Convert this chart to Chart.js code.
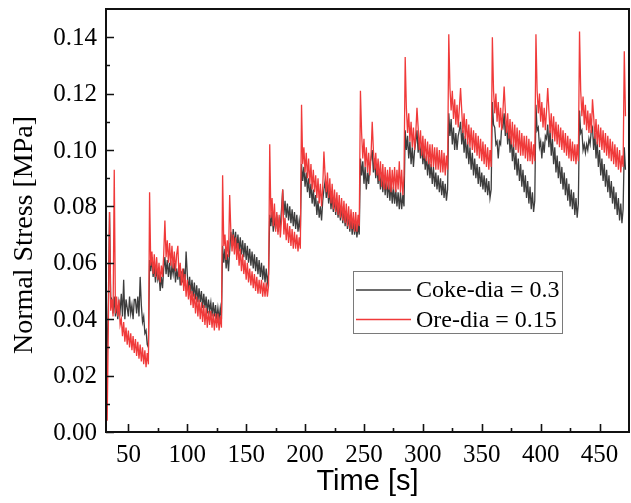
<!DOCTYPE html>
<html>
<head>
<meta charset="utf-8">
<script src="https://cdn.jsdelivr.net/npm/chart.js@4/dist/chart.umd.min.js"></script>
<style>
  html, body { margin: 0; padding: 0; background: #fff; }
  #wrap { width: 631px; height: 503px; position: relative; }
  .fp { position: absolute; left: -9999px; top: 0; font-size: 20px; }
</style>
</head>
<body>
<div id="wrap"><canvas id="c" width="631" height="503"></canvas></div>
<span class="fp" style="font-family:'Liberation Serif'">0.14 Coke</span>
<span class="fp" style="font-family:'Liberation Sans'">Time</span>
<script>
// ---- data (time in s, stress in MPa), 1 s sampling inside each loading segment ----
const segmentStarts = [31, 68, 130, 170, 197, 247, 285, 322, 359, 396, 433];

const cokeValues = [
  // 31-67
  [0.002,0.030,0.046,0.078,0.048,
   0.047,0.042,0.048,0.041,0.045,0.040,0.046,0.043,0.049,0.041,
   0.054,0.040,0.047,0.044,0.041,0.048,0.042,0.045,0.040,0.047,
   0.047,0.042,0.048,0.041,0.055,0.045,0.039,0.041,0.035,0.036,0.031,0.030],
  // 68-129
  [0.061,0.057,0.062,0.055,0.059,0.053,0.058,0.054,0.056,0.050,0.055,0.051,
   0.058,0.062,0.056,0.061,0.055,0.060,0.054,0.059,0.056,0.060,
   0.053,0.058,0.054,0.059,0.052,0.057,0.053,0.058,0.052,0.064,
   0.056,0.050,0.055,0.049,0.054,0.048,0.053,0.047,0.052,0.046,
   0.051,0.046,0.050,0.044,0.049,0.044,0.048,0.042,0.047,0.043,
   0.046,0.041,0.046,0.041,0.045,0.040,0.044,0.040,0.044,0.040],
  // 130-169
  [0.066,0.060,0.065,0.058,0.063,0.057,0.064,0.071,0.066,0.072,
   0.066,0.071,0.065,0.070,0.064,0.069,0.063,0.068,0.062,0.067,
   0.061,0.066,0.060,0.065,0.059,0.064,0.058,0.063,0.057,0.062,
   0.056,0.061,0.055,0.060,0.054,0.059,0.053,0.058,0.053,0.056],
  // 170-196
  [0.077,0.073,0.078,0.071,0.076,0.072,0.077,0.071,0.075,0.073,
   0.079,0.086,0.077,0.082,0.076,0.081,0.075,0.080,0.074,0.079,
   0.073,0.078,0.072,0.077,0.071,0.075,0.071],
  // 197-246
  [0.095,0.089,0.094,0.087,0.092,0.085,0.090,0.083,0.088,0.081,
   0.086,0.080,0.084,0.077,0.082,0.076,0.080,0.075,0.082,0.086,
   0.089,0.083,0.088,0.081,0.086,0.079,0.084,0.078,0.083,0.077,
   0.082,0.076,0.081,0.075,0.080,0.074,0.079,0.073,0.078,0.072,
   0.077,0.071,0.076,0.070,0.075,0.070,0.074,0.069,0.073,0.070],
  // 247-284
  [0.097,0.091,0.096,0.088,0.094,0.086,0.092,0.088,0.095,0.097,
   0.100,0.092,0.097,0.090,0.095,0.088,0.093,0.086,0.092,0.085,
   0.091,0.084,0.090,0.083,0.089,0.082,0.088,0.081,0.087,0.081,
   0.086,0.080,0.085,0.079,0.085,0.079,0.084,0.080],
  // 285-321
  [0.107,0.100,0.105,0.097,0.103,0.095,0.101,0.094,0.100,0.103,
   0.107,0.099,0.104,0.097,0.102,0.095,0.100,0.093,0.098,0.091,
   0.097,0.090,0.095,0.088,0.094,0.087,0.092,0.086,0.091,0.085,
   0.090,0.084,0.089,0.083,0.088,0.082,0.086],
  // 322-358
  [0.113,0.105,0.111,0.102,0.108,0.100,0.106,0.100,0.105,0.107,
   0.110,0.102,0.107,0.099,0.105,0.097,0.103,0.095,0.101,0.093,
   0.099,0.091,0.097,0.090,0.095,0.088,0.094,0.087,0.092,0.086,
   0.091,0.085,0.090,0.084,0.089,0.083,0.086],
  // 359-395
  [0.117,0.109,0.108,0.102,0.103,0.097,0.103,0.102,0.109,0.108,
   0.113,0.105,0.110,0.102,0.108,0.099,0.105,0.096,0.102,0.093,
   0.099,0.091,0.097,0.089,0.095,0.087,0.093,0.085,0.091,0.083,
   0.089,0.081,0.087,0.079,0.085,0.078,0.082],
  // 396-432
  [0.116,0.107,0.108,0.101,0.103,0.097,0.103,0.099,0.105,0.104,
   0.109,0.101,0.107,0.098,0.104,0.095,0.101,0.092,0.098,0.090,
   0.096,0.088,0.094,0.086,0.092,0.084,0.090,0.082,0.088,0.080,
   0.086,0.079,0.085,0.077,0.083,0.076,0.081],
  // 433-472
  [0.114,0.106,0.107,0.100,0.102,0.099,0.102,0.100,0.104,0.102,
   0.107,0.108,0.100,0.106,0.097,0.103,0.094,0.100,0.091,0.097,
   0.089,0.095,0.087,0.093,0.085,0.091,0.083,0.089,0.081,0.087,
   0.079,0.085,0.077,0.083,0.075,0.081,0.074,0.079,0.101,0.093]
];

const oreValues = [
  // 31-67
  [0.041,0.004,0.038,0.078,0.043,0.047,0.041,0.093,0.042,
   0.048,0.041,0.047,0.038,0.040,0.034,0.039,0.032,0.037,0.031,
   0.036,0.030,0.035,0.029,0.034,0.028,0.033,0.027,0.032,0.026,
   0.031,0.025,0.030,0.024,0.029,0.023,0.028,0.024],
  // 68-129
  [0.085,0.059,0.064,0.056,0.063,0.055,0.062,0.054,0.060,0.053,0.059,0.055,
   0.063,0.075,0.062,0.068,0.060,0.067,0.059,0.066,0.058,0.064,
   0.057,0.063,0.066,0.055,0.060,0.052,0.058,0.050,0.056,0.048,
   0.054,0.047,0.052,0.045,0.050,0.044,0.049,0.042,0.048,0.041,
   0.047,0.040,0.046,0.039,0.045,0.038,0.044,0.037,0.043,0.038,
   0.043,0.037,0.042,0.036,0.042,0.037,0.042,0.036,0.041,0.037],
  // 130-169
  [0.091,0.066,0.070,0.061,0.068,0.062,0.084,0.071,0.064,0.070,
   0.063,0.069,0.061,0.067,0.059,0.065,0.057,0.063,0.056,0.061,
   0.054,0.060,0.053,0.058,0.052,0.057,0.051,0.056,0.050,0.055,
   0.049,0.054,0.049,0.054,0.048,0.053,0.048,0.053,0.048,0.052],
  // 170-196
  [0.102,0.076,0.083,0.073,0.081,0.071,0.078,0.070,0.077,0.069,
   0.075,0.086,0.070,0.076,0.068,0.074,0.067,0.073,0.066,0.072,
   0.065,0.071,0.065,0.070,0.064,0.069,0.065],
  // 197-246
  [0.116,0.095,0.101,0.092,0.099,0.090,0.097,0.088,0.095,0.086,
   0.093,0.085,0.091,0.083,0.090,0.081,0.088,0.080,0.087,0.0995,
   0.091,0.085,0.092,0.083,0.090,0.081,0.088,0.079,0.086,0.078,
   0.085,0.077,0.084,0.076,0.083,0.075,0.082,0.074,0.081,0.073,
   0.080,0.072,0.079,0.072,0.078,0.071,0.078,0.071,0.077,0.073],
  // 247-284
  [0.121,0.106,0.097,0.104,0.094,0.101,0.092,0.099,0.091,0.098,
   0.110,0.100,0.093,0.099,0.091,0.097,0.089,0.096,0.087,0.095,
   0.086,0.094,0.086,0.093,0.086,0.094,0.085,0.093,0.086,0.094,
   0.085,0.093,0.086,0.096,0.085,0.093,0.084,0.091],
  // 285-321
  [0.133,0.115,0.106,0.113,0.103,0.110,0.101,0.108,0.100,0.106,
   0.115,0.108,0.100,0.107,0.098,0.105,0.097,0.104,0.096,0.103,
   0.095,0.102,0.094,0.102,0.094,0.101,0.093,0.101,0.093,0.100,
   0.092,0.100,0.092,0.099,0.091,0.098,0.093],
  // 322-358
  [0.141,0.122,0.114,0.121,0.111,0.118,0.109,0.116,0.108,0.115,
   0.122,0.114,0.106,0.113,0.104,0.111,0.102,0.109,0.101,0.108,
   0.100,0.107,0.099,0.106,0.098,0.105,0.097,0.104,0.096,0.103,
   0.095,0.102,0.094,0.101,0.093,0.100,0.094],
  // 359-395
  [0.140,0.121,0.113,0.120,0.110,0.117,0.108,0.115,0.107,0.114,
   0.1225,0.114,0.106,0.113,0.104,0.111,0.102,0.110,0.101,0.109,
   0.100,0.108,0.099,0.107,0.098,0.106,0.098,0.105,0.097,0.105,
   0.096,0.104,0.096,0.103,0.095,0.102,0.096],
  // 396-432
  [0.141,0.121,0.113,0.120,0.110,0.117,0.108,0.115,0.107,0.114,
   0.122,0.114,0.106,0.113,0.104,0.112,0.103,0.110,0.102,0.109,
   0.101,0.108,0.100,0.107,0.099,0.106,0.098,0.105,0.097,0.104,
   0.096,0.103,0.096,0.102,0.095,0.102,0.096],
  // 433-472
  [0.142,0.121,0.112,0.119,0.109,0.116,0.107,0.114,0.106,0.113,
   0.106,0.118,0.112,0.104,0.111,0.102,0.109,0.101,0.108,0.100,
   0.107,0.099,0.106,0.098,0.105,0.097,0.104,0.096,0.103,0.095,
   0.102,0.094,0.101,0.093,0.100,0.092,0.098,0.094,0.135,0.112]
];

const seriesLabels = ['Coke-dia = 0.3', 'Ore-dia = 0.15'];
const xTickValues = [50, 100, 150, 200, 250, 300, 350, 400, 450];
const xMinorValues = [75, 125, 175, 225, 275, 325, 375, 425];
const yTickValues = [0.00, 0.02, 0.04, 0.06, 0.08, 0.10, 0.12, 0.14];
const yMinorValues = [0.01, 0.03, 0.05, 0.07, 0.09, 0.11, 0.13];
const xTitle = 'Time [s]';
const yTitle = 'Normal Stress [MPa]';

function toPoints(segments) {
  const pts = [];
  segments.forEach((seg, k) => {
    seg.forEach((v, i) => pts.push({ x: segmentStarts[k] + i, y: v }));
  });
  return pts;
}

const SERIF = '"Liberation Serif", "Times New Roman", serif';
const SANS = '"Liberation Sans", Arial, sans-serif';
const COKE_COLOR = '#3d3d3d';
const ORE_COLOR = '#f03a3a';

const frameTicks = {
  id: 'frameTicks',
  afterDatasetsDraw(chart) {
    const { ctx, chartArea: a, scales } = chart;
    ctx.save();
    ctx.strokeStyle = '#111';
    ctx.lineWidth = 1.6;
    ctx.beginPath();
    scales.x.ticks.forEach(t => {
      const px = Math.round(scales.x.getPixelForValue(t.value)) + 0.5;
      ctx.moveTo(px, a.bottom); ctx.lineTo(px, a.bottom - 8);
    });
    xMinorValues.forEach(v => {
      const px = Math.round(scales.x.getPixelForValue(v)) + 0.5;
      ctx.moveTo(px, a.bottom); ctx.lineTo(px, a.bottom - 4);
    });
    scales.y.ticks.forEach(t => {
      const py = Math.round(scales.y.getPixelForValue(t.value)) + 0.5;
      ctx.moveTo(a.left, py); ctx.lineTo(a.left + 8, py);
    });
    yMinorValues.forEach(v => {
      const py = Math.round(scales.y.getPixelForValue(v)) + 0.5;
      ctx.moveTo(a.left, py); ctx.lineTo(a.left + 4, py);
    });
    ctx.stroke();
    ctx.lineWidth = 2;
    ctx.strokeRect(a.left, a.top, a.right - a.left, a.bottom - a.top);

    // tick labels (serif), placed through the scales
    ctx.fillStyle = '#000';
    ctx.font = '25px ' + SERIF;
    ctx.textAlign = 'center';
    ctx.textBaseline = 'alphabetic';
    scales.x.ticks.forEach(t => {
      ctx.fillText(String(t.value), scales.x.getPixelForValue(t.value), 462);
    });
    ctx.textAlign = 'right';
    ctx.textBaseline = 'middle';
    scales.y.ticks.forEach(t => {
      ctx.fillText(Number(t.value).toFixed(2), a.left - 9, scales.y.getPixelForValue(t.value) + 1);
    });
    ctx.restore();
  }
};

const legendBox = {
  id: 'legendBox',
  afterDatasetsDraw(chart) {
    const { ctx } = chart;
    const x0 = 353.5, y0 = 271.5, w = 209, h = 62;
    ctx.save();
    ctx.fillStyle = '#fff';
    ctx.fillRect(x0, y0, w, h);
    ctx.strokeStyle = '#7a7a7a';
    ctx.lineWidth = 1;
    ctx.strokeRect(x0, y0, w, h);
    const rows = [290, 319.5];
    chart.data.datasets.forEach((ds, i) => {
      ctx.strokeStyle = ds.borderColor;
      ctx.lineWidth = 1.6;
      ctx.beginPath();
      ctx.moveTo(356, rows[i]); ctx.lineTo(411, rows[i]);
      ctx.stroke();
      ctx.fillStyle = '#000';
      ctx.font = '24px ' + SERIF;
      ctx.textBaseline = 'middle';
      ctx.textAlign = 'left';
      ctx.fillText(ds.label, 416, rows[i] + 1);
    });
    ctx.restore();
  }
};

const axisTitles = {
  id: 'axisTitles',
  afterDraw(chart) {
    const { ctx, chartArea: a } = chart;
    ctx.save();
    ctx.fillStyle = '#000';
    ctx.textAlign = 'center';
    ctx.textBaseline = 'middle';
    ctx.font = '29px ' + SANS;
    ctx.fillText(xTitle, (a.left + a.right) / 2, 482);
    ctx.translate(25, 235);
    ctx.rotate(-Math.PI / 2);
    ctx.font = '28px ' + SERIF;
    ctx.fillText(yTitle, 0, 0);
    ctx.restore();
  }
};

function build() {
  new Chart(document.getElementById('c'), {
    type: 'line',
    data: {
      datasets: [
        { label: seriesLabels[0], data: toPoints(cokeValues), borderColor: COKE_COLOR,
          borderWidth: 1.3, pointRadius: 0, tension: 0, order: 1 },
        { label: seriesLabels[1], data: toPoints(oreValues), borderColor: ORE_COLOR,
          borderWidth: 1.3, pointRadius: 0, tension: 0, order: 0 }
      ]
    },
    options: {
      responsive: false,
      animation: false,
      devicePixelRatio: 1,
      layout: { padding: { top: 9, right: 2, left: 0, bottom: 0 } },
      plugins: { legend: { display: false }, tooltip: { enabled: false } },
      scales: {
        x: {
          type: 'linear', min: 31, max: 475, bounds: 'data',
          afterBuildTicks(s) { s.ticks = xTickValues.map(v => ({ value: v })); },
          afterFit(s) { s.height = 71; },
          grid: { display: false, drawTicks: false },
          border: { display: false },
          ticks: { display: false }
        },
        y: {
          type: 'linear', min: 0, max: 0.15, bounds: 'data',
          afterBuildTicks(s) { s.ticks = yTickValues.map(v => ({ value: v })); },
          afterFit(s) { s.width = 106; },
          grid: { display: false, drawTicks: false },
          border: { display: false },
          ticks: { display: false }
        }
      }
    },
    plugins: [frameTicks, legendBox, axisTitles]
  });
}

Promise.all([
  document.fonts.load('25px "Liberation Serif"'),
  document.fonts.load('29px "Liberation Sans"')
]).catch(() => {}).then(build);
</script>
</body>
</html>
